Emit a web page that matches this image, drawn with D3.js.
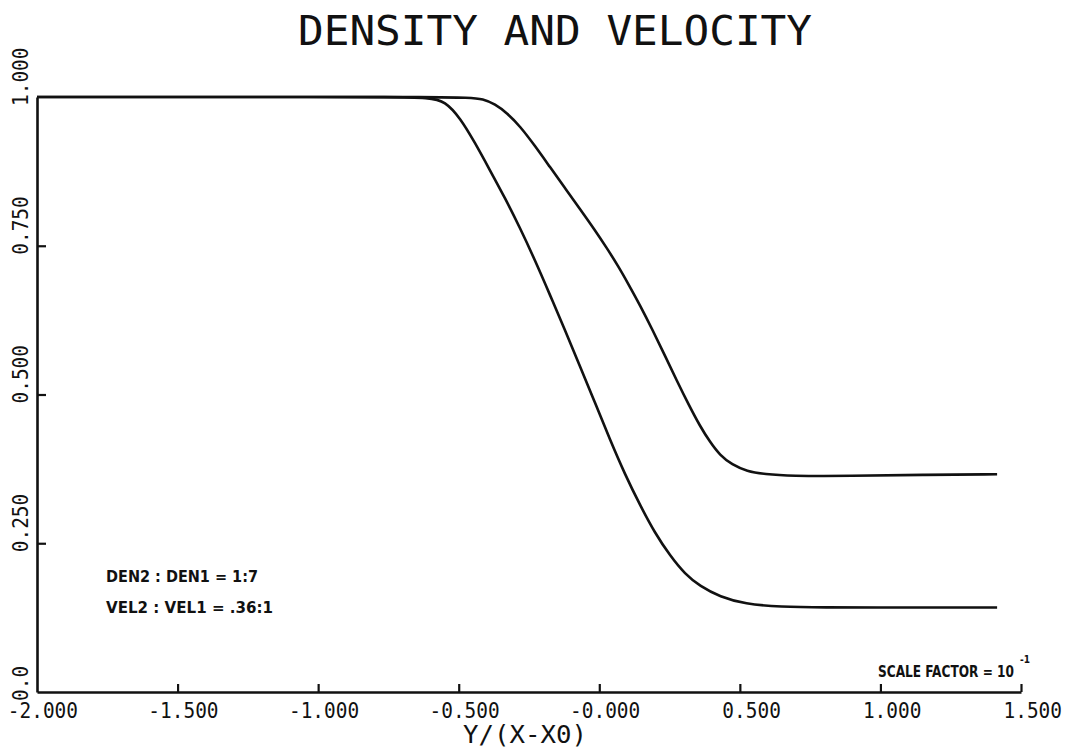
<!DOCTYPE html>
<html>
<head>
<meta charset="utf-8">
<script src="https://cdn.jsdelivr.net/npm/d3@7"></script>
<style>
  html, body { margin: 0; padding: 0; background: #ffffff; }
  svg { display: block; }
</style>
</head>
<body>
<svg id="chart" width="1069" height="750"></svg>
<script>
// ---- data ----
const titleText = "DENSITY  AND  VELOCITY";
const xAxisTitle = "Y/(X-X0)";
const xTicks = [-2.0, -1.5, -1.0, -0.5, 0.0, 0.5, 1.0, 1.5];
const xTickLabels = ["-2.000", "-1.500", "-1.000", "-0.500", "-0.000", "0.500", "1.000", "1.500"];
const yTicks = [0.0, 0.25, 0.5, 0.75, 1.0];
const yTickLabels = ["0.0", "0.250", "0.500", "0.750", "1.000"];
const notes = ["DEN2 : DEN1 = 1:7", "VEL2 : VEL1 = .36:1"];
const scaleNote = "SCALE FACTOR = 10";
const scaleExp = "-1";

// density ratio curve (lower)
const densityX = [-2.0, -1.5, -1.0, -0.75, -0.602, -0.549, -0.495, -0.442, -0.389, -0.335, -0.282, -0.229, -0.175, -0.122, -0.069, -0.015, 0.038, 0.091, 0.145, 0.198, 0.252, 0.305, 0.358, 0.429, 0.518, 0.643, 0.8, 1.0, 1.2, 1.415];
const densityY = [1.0, 1.0, 1.0, 1.0, 0.999, 0.993, 0.965, 0.923, 0.877, 0.830, 0.780, 0.726, 0.667, 0.608, 0.548, 0.486, 0.424, 0.366, 0.314, 0.267, 0.229, 0.198, 0.178, 0.160, 0.148, 0.143, 0.142, 0.142, 0.142, 0.142];

// velocity ratio curve (upper)
const velocityX = [-2.0, -1.5, -1.0, -0.6, -0.46, -0.414, -0.371, -0.328, -0.282, -0.229, -0.175, -0.122, -0.069, -0.015, 0.027, 0.067, 0.102, 0.145, 0.191, 0.234, 0.276, 0.319, 0.358, 0.394, 0.429, 0.472, 0.525, 0.589, 0.678, 0.892, 1.15, 1.415];
const velocityY = [1.0, 1.0, 1.0, 1.0, 0.999, 0.997, 0.988, 0.973, 0.951, 0.918, 0.882, 0.847, 0.812, 0.776, 0.746, 0.716, 0.687, 0.650, 0.607, 0.565, 0.523, 0.482, 0.447, 0.420, 0.398, 0.382, 0.371, 0.366, 0.363, 0.363, 0.365, 0.366];

// ---- layout ----
const svg = d3.select("#chart");
const x = d3.scaleLinear().domain([-2.0, 1.5]).range([37, 1021]);
const y = d3.scaleLinear().domain([0, 1]).range([692, 97]);
const ink = "#111";
const mono = "'DejaVu Sans Mono', 'Liberation Mono', monospace";
const pitch = 11.7;

svg.append("rect").attr("width", 1069).attr("height", 750).attr("fill", "#ffffff");

// title
svg.append("text")
  .attr("x", 298).attr("y", 45)
  .attr("font-family", mono).attr("font-size", 40)
  .attr("textLength", 514).attr("lengthAdjust", "spacingAndGlyphs")
  .attr("fill", ink)
  .text(titleText);

// x axis
const xAxis = d3.axisBottom(x)
  .tickValues(xTicks.slice(1))
  .tickSizeInner(-8).tickSizeOuter(0)
  .tickFormat(() => "");
const gx = svg.append("g").attr("transform", `translate(0,${y(0)})`).call(xAxis);
gx.select(".domain").attr("stroke", ink).attr("stroke-width", 2.6);
gx.selectAll(".tick line").attr("stroke", ink).attr("stroke-width", 2.2);

svg.append("g").selectAll("text").data(xTicks).join("text")
  .attr("x", d => x(d) + 41)
  .attr("y", 718)
  .attr("text-anchor", "end")
  .attr("font-family", mono).attr("font-size", 22)
  .attr("fill", ink)
  .attr("textLength", (d, i) => xTickLabels[i].length * pitch)
  .attr("lengthAdjust", "spacingAndGlyphs")
  .text((d, i) => xTickLabels[i]);

svg.append("text")
  .attr("x", 463).attr("y", 743)
  .attr("font-family", mono).attr("font-size", 24)
  .attr("textLength", 124).attr("lengthAdjust", "spacingAndGlyphs")
  .attr("fill", ink)
  .text(xAxisTitle);

// y axis
const yAxis = d3.axisLeft(y)
  .tickValues(yTicks.slice(1, -1))
  .tickSizeInner(-9).tickSizeOuter(0)
  .tickFormat(() => "");
const gy = svg.append("g").attr("transform", `translate(${x(-2)},0)`).call(yAxis);
gy.select(".domain").attr("stroke", ink).attr("stroke-width", 2.6);
gy.selectAll(".tick line").attr("stroke", ink).attr("stroke-width", 2.2);

svg.append("g").selectAll("text").data(yTicks).join("text")
  .attr("transform", d => `translate(28,${y(d) + 9}) rotate(-90)`)
  .attr("text-anchor", "start")
  .attr("font-family", mono).attr("font-size", 21)
  .attr("fill", ink)
  .attr("textLength", (d, i) => yTickLabels[i].length * pitch)
  .attr("lengthAdjust", "spacingAndGlyphs")
  .text((d, i) => yTickLabels[i]);

// curves
const line = d3.line().x(d => x(d[0])).y(d => y(d[1])).curve(d3.curveBasis);
const series = [
  d3.zip(densityX, densityY),
  d3.zip(velocityX, velocityY)
];
svg.append("g").selectAll("path").data(series).join("path")
  .attr("d", line)
  .attr("fill", "none")
  .attr("stroke", ink)
  .attr("stroke-width", 2.6)
  .attr("stroke-linejoin", "round");

// notes
const cond = "'DejaVu Sans Condensed', 'DejaVu Sans', sans-serif";
svg.append("g").selectAll("text").data(notes).join("text")
  .attr("x", 106)
  .attr("y", (d, i) => 582 + i * 31)
  .attr("font-family", cond).attr("font-weight", "bold").attr("font-size", 16)
  .attr("fill", ink)
  .attr("textLength", (d, i) => i === 0 ? 152 : 167)
  .attr("lengthAdjust", "spacingAndGlyphs")
  .text(d => d);

svg.append("text")
  .attr("x", 878).attr("y", 677)
  .attr("font-family", cond).attr("font-weight", "bold").attr("font-size", 15)
  .attr("fill", ink)
  .attr("textLength", 136).attr("lengthAdjust", "spacingAndGlyphs")
  .text(scaleNote);
svg.append("text")
  .attr("x", 1020).attr("y", 663)
  .attr("font-family", cond).attr("font-weight", "bold").attr("font-size", 10)
  .attr("fill", ink)
  .text(scaleExp);
</script>
</body>
</html>
